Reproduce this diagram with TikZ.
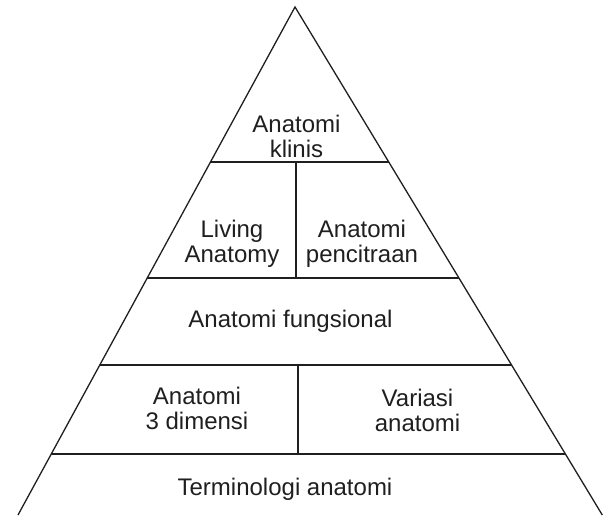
\documentclass[tikz,border=0pt]{standalone}
\usepackage{fontspec}
\setmainfont{Liberation Sans}
\usetikzlibrary{calc}

\begin{document}
\begin{tikzpicture}[x=1pt,y=-1pt,
	edge/.style={line width=1.3pt, color=black!88},
	lvltext/.style={align=center, inner sep=0pt, text=black!88,
		font=\fontsize{24}{25}\selectfont}]
	\useasboundingbox (0,0) rectangle (605,515);

	\coordinate (top) at (295,7);
	\coordinate (bl) at (18,515);
	\coordinate (br) at (602.3,515);

	% edges of the levels
	\coordinate (l1) at ($(top)!0.3051!(bl)$);
	\coordinate (r1) at ($(top)!0.3051!(br)$);
	\coordinate (l2) at ($(top)!0.5335!(bl)$);
	\coordinate (r2) at ($(top)!0.5335!(br)$);
	\coordinate (l3) at ($(top)!0.7047!(bl)$);
	\coordinate (r3) at ($(top)!0.7047!(br)$);
	\coordinate (l4) at ($(top)!0.8799!(bl)$);
	\coordinate (r4) at ($(top)!0.8799!(br)$);

	\coordinate (s1t) at (296,162);
	\coordinate (s1b) at (296,278);
	\coordinate (s2t) at (298,365);
	\coordinate (s2b) at (298,454);

	\draw[edge] (bl) -- (top) -- (br);
	\draw[edge] (l1) -- (r1);
	\draw[edge] (l2) -- (r2);
	\draw[edge] (l3) -- (r3);
	\draw[edge] (l4) -- (r4);
	\draw[edge] (s1t) -- (s1b);
	\draw[edge] (s2t) -- (s2b);

	\node[lvltext] (klinis) at (296.5,136) {Anatomi\\klinis};
	\node[lvltext] (living) at (232,243.4) {Living\\Anatomy};
	\node[lvltext] (pencitraan) at (362,243.4) {Anatomi\\pencitraan};
	\node[lvltext] (fungsional) at (290.5,321) {Anatomi fungsional};
	\node[lvltext] (dimensi) at (197,408.4) {Anatomi\\3 dimensi};
	\node[lvltext] (variasi) at (417.5,410.9) {Variasi\\anatomi};
	\node[lvltext] (terminologi) at (285,489) {Terminologi anatomi};
\end{tikzpicture}
\end{document}
